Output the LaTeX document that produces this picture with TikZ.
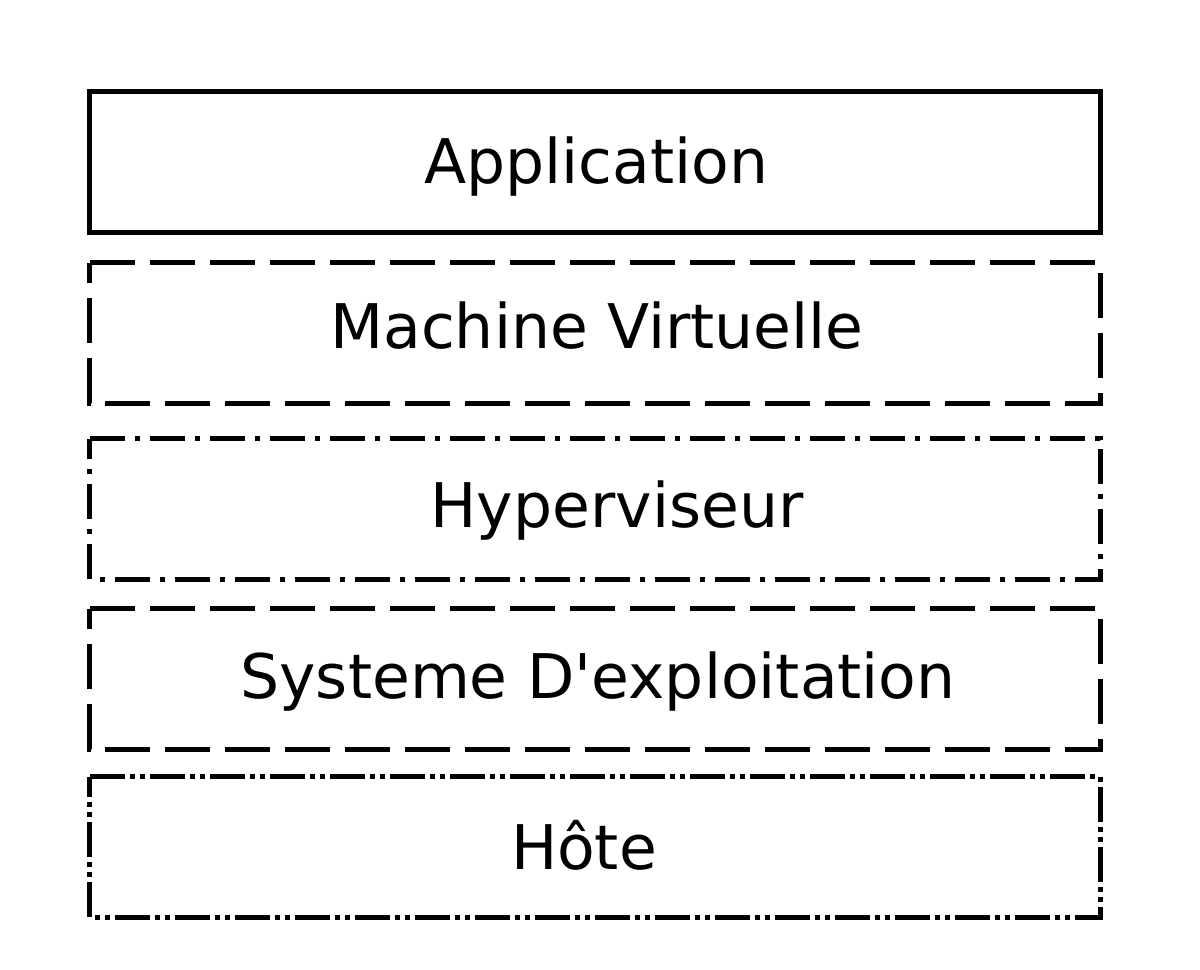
\documentclass[tikz,border=0pt]{standalone}
\usepackage{fontspec}
\setmainfont{DejaVu Sans}[Ligatures=TeXOff]
\begin{document}
\begin{tikzpicture}[x=0.01cm,y=-0.01cm,
  layer/.style={minimum width=10.1cm,minimum height=1.4cm,inner sep=0pt,outer sep=0pt},
  frame/.style={line width=1.42pt,line join=miter,line cap=butt},
  solidframe/.style={frame},
  dashframe/.style={frame,dash pattern=on 0.45cm off 0.15cm},
  dotdashframe/.style={frame,dash pattern=on 0.35cm off 0.1cm on 0.05cm off 0.1cm},
  dotdotdashframe/.style={frame,dash pattern=on 0.35cm off 0.05cm on 0.05cm off 0.05cm on 0.05cm off 0.05cm},
  caption/.style={anchor=base,inner sep=0pt,font=\fontsize{17.5pt}{20pt}\selectfont}
]
\useasboundingbox (0,0) rectangle (1200,970);

% layer boxes (centres in px, y downward)
\node[layer] (app) at (595,162) {};
\node[layer] (vm)  at (595,333) {};
\node[layer] (hyp) at (595,509) {};
\node[layer] (os)  at (595,679) {};
\node[layer] (host) at (595,847) {};

% outlines, each traced from the top-left corner clockwise
\draw[solidframe] (app.north west) -- (app.north east) -- (app.south east) -- (app.south west) -- cycle;
\draw[dashframe] (vm.north west) -- (vm.north east) -- (vm.south east) -- (vm.south west) -- cycle;
\draw[dotdashframe] (hyp.north west) -- (hyp.north east) -- (hyp.south east) -- (hyp.south west) -- cycle;
\draw[dashframe] (os.north west) -- (os.north east) -- (os.south east) -- (os.south west) -- cycle;
\draw[dotdotdashframe] (host.north west) -- (host.north east) -- (host.south east) -- (host.south west) -- cycle;

% labels
\node[caption] (appl)  at (596,184) {Application};
\node[caption] (vml)   at (597,348) {Machine Virtuelle};
\node[caption] (hypl)  at (617,527) {Hyperviseur};
\node[caption] (osl)   at (598,698) {Systeme D'exploitation};
\node[caption] (hostl) at (584,869) {Hôte};
\end{tikzpicture}
\end{document}
